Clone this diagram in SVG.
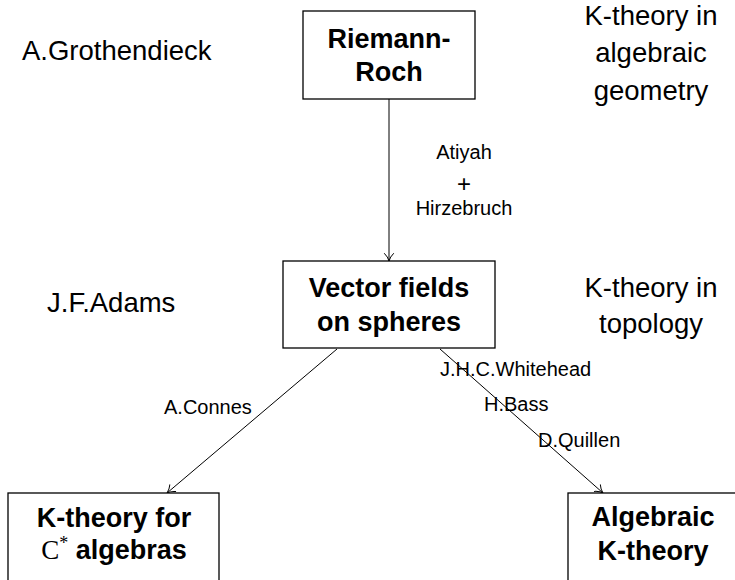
<svg xmlns="http://www.w3.org/2000/svg" width="735" height="580" viewBox="0 0 735 580">
  <defs>
    <marker id="arr" markerWidth="12" markerHeight="12" refX="10" refY="6" orient="auto" markerUnits="userSpaceOnUse">
      <path d="M2.5,1.5 Q6,5 10,6 Q6,7 2.5,10.5" fill="none" stroke="#000" stroke-width="1" stroke-linecap="round"/>
    </marker>
  </defs>
  <style>
    .box { fill: #fff; stroke: #000; stroke-width: 1.3; }
    .title { font-family: "Liberation Sans", Arial, sans-serif; font-size: 27px; font-weight: bold; text-anchor: middle; fill: #000; }
    .side { font-family: "Liberation Sans", Arial, sans-serif; font-size: 27.5px; fill: #000; }
    .lbl { font-family: "Liberation Sans", Arial, sans-serif; font-size: 20px; fill: #000; }
    .edge { fill: none; stroke: #000; stroke-width: 1; marker-end: url(#arr); }
    .math { font-family: "Liberation Serif", "Times New Roman", serif; font-weight: normal; }
  </style>
  <rect width="735" height="580" fill="#fff"/>

  <!-- connectors -->
  <g id="edges">
    <line class="edge" x1="389" y1="99" x2="389" y2="261"/>
    <line class="edge" x1="337" y1="349" x2="167" y2="493"/>
    <line class="edge" x1="440" y1="349" x2="603" y2="493"/>
  </g>

  <!-- edge labels -->
  <g id="edge-labels">
    <text class="lbl" x="464" y="159" text-anchor="middle">Atiyah</text>
    <text class="lbl" x="464" y="192" text-anchor="middle" style="font-size:24px">+</text>
    <text class="lbl" x="464" y="215" text-anchor="middle">Hirzebruch</text>
    <text class="lbl" x="164" y="414">A.Connes</text>
    <text class="lbl" x="440" y="376">J.H.C.Whitehead</text>
    <text class="lbl" x="484" y="411">H.Bass</text>
    <text class="lbl" x="538" y="447">D.Quillen</text>
  </g>

  <!-- nodes -->
  <g id="riemann-roch">
    <rect class="box" x="303" y="11" width="172" height="88"/>
    <text class="title" x="389" y="48">Riemann-</text>
    <text class="title" x="389" y="81">Roch</text>
  </g>

  <g id="vector-fields">
    <rect class="box" x="283" y="261" width="212" height="87"/>
    <text class="title" x="389" y="297">Vector fields</text>
    <text class="title" x="389" y="331">on spheres</text>
  </g>

  <g id="k-theory-c-star">
    <rect class="box" x="8" y="493" width="211" height="110"/>
    <text class="title" x="114" y="527">K-theory for</text>
    <text class="title" x="114" y="559"><tspan class="math">C</tspan><tspan class="math" dy="-10" style="font-size:18px">*</tspan><tspan dy="10"> algebras</tspan></text>
  </g>

  <g id="algebraic-k-theory">
    <rect class="box" x="568" y="493" width="180" height="110"/>
    <text class="title" x="653" y="526">Algebraic</text>
    <text class="title" x="653" y="560">K-theory</text>
  </g>

  <!-- side annotations -->
  <g id="annotations">
    <text class="side" x="22" y="60">A.Grothendieck</text>
    <text class="side" x="651" y="25" text-anchor="middle">K-theory in</text>
    <text class="side" x="651" y="62" text-anchor="middle">algebraic</text>
    <text class="side" x="651" y="100" text-anchor="middle">geometry</text>
    <text class="side" x="47" y="312">J.F.Adams</text>
    <text class="side" x="651" y="297" text-anchor="middle">K-theory in</text>
    <text class="side" x="651" y="333" text-anchor="middle">topology</text>
  </g>
</svg>
